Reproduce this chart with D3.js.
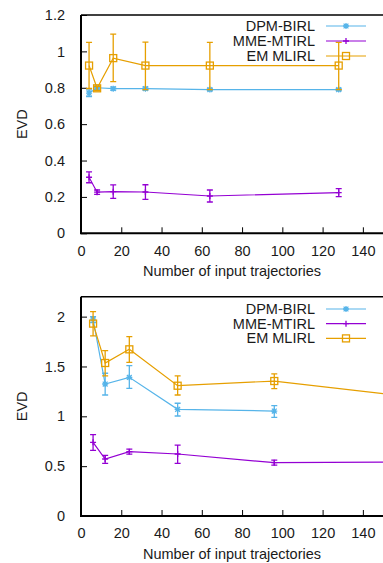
<!DOCTYPE html>
<html><head><meta charset="utf-8">
<script src="https://cdn.jsdelivr.net/npm/d3@7"></script>
<style>body{margin:0;background:#fff}svg{display:block}text{font-family:"Liberation Sans",Arial,sans-serif;fill:#1a1a1a}</style>
</head><body>
<svg id="c" width="383" height="563"></svg>
<script>
// ---------- Data ----------
const seriesNames = ["DPM-BIRL", "MME-MTIRL", "EM MLIRL"];
const seriesColors = ["#56b4e9", "#9400d3", "#e69f00"];
const xTicks = [0, 20, 40, 60, 80, 100, 120, 140];

// Panel 1
const p1X = [4, 8, 16, 32, 64, 128];
const p1DPM = [0.77, 0.80, 0.795, 0.795, 0.79, 0.79];
const p1DPMerr = [0.018, 0.008, 0.008, 0.008, 0.006, 0.006];
const p1MME = [0.308, 0.226, 0.229, 0.227, 0.205, 0.224];
const p1MMEerr = [0.03, 0.012, 0.037, 0.04, 0.033, 0.022];
const p1EM = [0.922, 0.797, 0.963, 0.922, 0.922, 0.922];
const p1EMlo = [0.796, 0.785, 0.834, 0.79, 0.79, 0.79];
const p1EMhi = [1.049, 0.808, 1.095, 1.051, 1.05, 1.05];
const p1YTicks = [0, 0.2, 0.4, 0.6, 0.8, 1, 1.2];
const p1YLabels = ["0", "0.2", "0.4", "0.6", "0.8", "1", "1.2"];

// Panel 2
const p2X = [6, 12, 24, 48, 96, 192];
const p2DPM = [1.975, 1.324, 1.391, 1.070, 1.053, null];
const p2DPMlo = [1.94, 1.214, 1.281, 1.003, 0.990, null];
const p2DPMhi = [2.00, 1.432, 1.508, 1.131, 1.107, null];
const p2MME = [0.739, 0.572, 0.645, 0.622, 0.535, 0.545];
const p2MMElo = [0.659, 0.528, 0.62, 0.528, 0.51, null];
const p2MMEhi = [0.816, 0.609, 0.67, 0.712, 0.56, null];
const p2EM = [1.93, 1.535, 1.672, 1.307, 1.354, 1.13];
const p2EMlo = [1.806, 1.405, 1.542, 1.214, 1.278, null];
const p2EMhi = [2.05, 1.659, 1.80, 1.405, 1.425, null];
const p2YTicks = [0, 0.5, 1, 1.5, 2];
const p2YLabels = ["0", "0.5", "1", "1.5", "2"];

const xLabel = "Number of input trajectories";
const yLabel = "EVD";

// ---------- Drawing ----------
const svg = d3.select("#c");

function marker(g, type, x, y, color, legend) {
  const s = 3;
  if (type === 0) { // asterisk
    g.append("path").attr("d", `M${x-s},${y}H${x+s}M${x},${y-s}V${y+s}M${x-s*0.8},${y-s*0.8}L${x+s*0.8},${y+s*0.8}M${x-s*0.8},${y+s*0.8}L${x+s*0.8},${y-s*0.8}`)
      .attr("stroke", color).attr("stroke-width", 1.3).attr("fill", "none");
  } else if (type === 1) { // plus
    g.append("path").attr("d", `M${x-s},${y}H${x+s}M${x},${y-s}V${y+s}`)
      .attr("stroke", color).attr("stroke-width", 1.3).attr("fill", "none");
  } else { // open square
    g.append("rect").attr("x", x-3.5).attr("y", y-3.5).attr("width", 7).attr("height", 7)
      .attr("stroke", color).attr("stroke-width", 1.3).attr("fill", "none");
  }
}

function panel(cfg) {
  const x = d3.scaleLinear().domain([0, 150]).range([81, 383]);
  const y = d3.scaleLinear().domain([0, cfg.ymax]).range([cfg.y0, cfg.y1]);
  const g = svg.append("g");
  const clipId = "clip" + cfg.id;
  svg.append("clipPath").attr("id", clipId).append("rect")
    .attr("x", 81).attr("y", cfg.y1 - 2).attr("width", 302).attr("height", cfg.y0 - cfg.y1 + 4);

  // axes
  const ya = d3.axisLeft(y).tickValues(cfg.yTicks).tickSize(-6).tickPadding(16).tickFormat((d, i) => cfg.yLabels[i]);
  const yg = g.append("g").attr("transform", "translate(81,0)").call(ya);
  const xa = d3.axisBottom(x).tickValues(xTicks).tickSize(-6).tickPadding(12).tickFormat(d3.format("d"));
  const xg = g.append("g").attr("transform", `translate(0,${cfg.y0})`).call(xa);
  [yg, xg].forEach(a => {
    a.select(".domain").remove();
    a.selectAll("line").attr("stroke", "#000").attr("stroke-width", 1);
    a.selectAll("text").attr("font-size", 14.5).attr("fill", "#1a1a1a").attr("font-family", '"Liberation Sans",Arial,sans-serif');
  });
  // frame
  g.append("path").attr("d", `M81,${cfg.y1}V${cfg.y0}H383`).attr("stroke", "#000").attr("stroke-width", 2).attr("fill", "none");
  g.append("line").attr("x1", 81).attr("x2", 383).attr("y1", cfg.y1).attr("y2", cfg.y1).attr("stroke", "#000").attr("stroke-width", 1.5);

  // labels
  g.append("text").attr("x", 232).attr("y", cfg.y0 + 43).attr("text-anchor", "middle").attr("font-size", 14.5).text(xLabel);
  g.append("text").attr("transform", `translate(22,${(cfg.y0 + cfg.y1) / 2}) rotate(-90)`).attr("text-anchor", "middle")
    .attr("dominant-baseline", "central").attr("font-size", 14.5).text(yLabel);

  // series
  const dg = g.append("g").attr("clip-path", `url(#${clipId})`);
  cfg.series.forEach((s, si) => {
    const color = seriesColors[si];
    const pts = cfg.xs.map((xv, i) => ({ x: xv, v: s.v[i], lo: s.lo[i], hi: s.hi[i] })).filter(d => d.v != null);
    dg.append("path").datum(pts).attr("d", d3.line().x(d => x(d.x)).y(d => y(d.v)))
      .attr("fill", "none").attr("stroke", color).attr("stroke-width", 1.2);
    pts.filter(d => d.lo != null).forEach(d => {
      const px = x(d.x);
      dg.append("path").attr("d", `M${px},${y(d.lo)}V${y(d.hi)}M${px-3},${y(d.lo)}H${px+3}M${px-3},${y(d.hi)}H${px+3}`)
        .attr("stroke", color).attr("stroke-width", 1.3).attr("fill", "none");
      marker(dg, si, px, y(d.v), color);
    });
  });

  // legend
  const lg = g.append("g");
  seriesNames.forEach((n, i) => {
    const ly = cfg.legY + i * cfg.legStep;
    lg.append("text").attr("x", 315).attr("y", ly).attr("text-anchor", "end").attr("dominant-baseline", "central")
      .attr("font-size", 14.5).text(n);
    lg.append("line").attr("x1", 326).attr("x2", 366).attr("y1", ly).attr("y2", ly).attr("stroke", seriesColors[i]).attr("stroke-width", 1.2);
    marker(lg, i, 346, ly, seriesColors[i]);
  });
}

panel({
  id: 1, ymax: 1.2, y0: 233.3, y1: 15, yTicks: p1YTicks, yLabels: p1YLabels, xs: p1X,
  legY: 26, legStep: 15,
  series: [
    { v: p1DPM, lo: p1DPM.map((v, i) => v - p1DPMerr[i]), hi: p1DPM.map((v, i) => v + p1DPMerr[i]) },
    { v: p1MME, lo: p1MME.map((v, i) => v - p1MMEerr[i]), hi: p1MME.map((v, i) => v + p1MMEerr[i]) },
    { v: p1EM, lo: p1EMlo, hi: p1EMhi }
  ]
});
panel({
  id: 2, ymax: 2.2, y0: 516, y1: 296.7, yTicks: p2YTicks, yLabels: p2YLabels, xs: p2X,
  legY: 309, legStep: 14.7,
  series: [
    { v: p2DPM, lo: p2DPMlo, hi: p2DPMhi },
    { v: p2MME, lo: p2MMElo, hi: p2MMEhi },
    { v: p2EM, lo: p2EMlo, hi: p2EMhi }
  ]
});
</script>
</body></html>
